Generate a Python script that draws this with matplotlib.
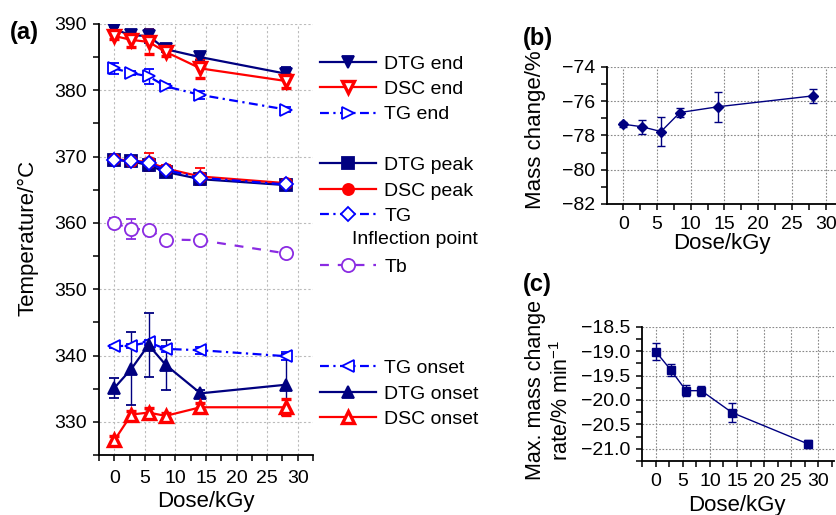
import matplotlib
matplotlib.use("Agg")
import matplotlib.pyplot as plt
from matplotlib.lines import Line2D
from matplotlib.ticker import MultipleLocator

plt.rcParams['font.family'] = ['Liberation Sans', 'DejaVu Sans']

# ---------------- data ----------------
dose = [0, 2.8, 5.6, 8.4, 14.1, 28.1]

dtg_end = [389.2, 388.3, 388.2, 386.2, 385.0, 382.5]
dtg_end_err = [0.3, 0.3, 1.1, 0.4, 0.5, 1.0]
dsc_end = [388.2, 387.6, 387.3, 385.8, 383.3, 381.4]
dsc_end_err = [0.5, 1.0, 1.8, 0.7, 1.5, 1.1]
tg_end = [383.3, 382.6, 382.1, 380.6, 379.3, 377.1]
tg_end_err = [0.8, 0.3, 1.1, 0.3, 0.6, 0.4]

dtg_peak = [369.5, 369.3, 368.7, 367.7, 366.6, 365.7]
dtg_peak_err = [0.3, 0.2, 0.8, 0.3, 0.4, 0.4]
dsc_peak = [369.6, 369.4, 369.2, 368.2, 367.0, 366.0]
dsc_peak_err = [0.4, 0.3, 1.4, 0.6, 1.3, 0.6]
tg_infl = [369.5, 369.4, 369.0, 368.0, 366.8, 365.8]
tg_infl_err = [0.2, 0.2, 0.5, 0.3, 0.3, 0.3]
tb = [360.0, 359.1, 359.0, 357.5, 357.4, 355.4]
tb_err = [0.7, 1.45, 0.4, 0.3, 0.6, 0.5]

tg_onset = [341.4, 341.5, 342.0, 341.0, 340.8, 339.9]
tg_onset_err = [0.2, 0.3, 0.4, 0.4, 0.5, 0.6]
dtg_onset = [335.1, 338.0, 341.6, 338.6, 334.3, 335.6]
dtg_onset_err = [1.5, 5.5, 4.8, 3.8, 0.5, 4.6]
dsc_onset = [327.2, 331.1, 331.4, 330.9, 332.2, 332.2]
dsc_onset_err = [0.6, 0.5, 0.7, 0.4, 0.7, 1.2]

mass_change = [-77.35, -77.5, -77.78, -76.67, -76.33, -75.7]
mass_change_err = [0.15, 0.4, 0.85, 0.25, 0.87, 0.4]

rate = [-19.01, -19.39, -19.81, -19.81, -20.26, -20.9]
rate_err = [0.17, 0.12, 0.11, 0.1, 0.19, 0.08]

# ---------------- styles ----------------
NAVY = '#000080'
RED = '#ff0000'
BLUE = '#0000ff'
PURPLE = '#8a2be2'

W, H = 837, 515
fig = plt.figure(figsize=(W / 100, H / 100), dpi=100)


def px_axes(l, t, r, b):
    return fig.add_axes([l / W, 1 - b / H, (r - l) / W, (b - t) / H])


TICK = 14
LAB = 16

# ---------------- panel (a) ----------------
axa = px_axes(99, 24, 313, 455)
ms = 8
series = [
    (dtg_end, dtg_end_err, dict(color=NAVY, ls='-', marker='v', mfc=NAVY, label='DTG end')),
    (dsc_end, dsc_end_err, dict(color=RED, ls='-', marker='v', mfc='white', mew=2.4, label='DSC end')),
    (tg_end, tg_end_err, dict(color=BLUE, ls='-.', marker='>', mfc='white', label='TG end')),
    (dtg_peak, dtg_peak_err, dict(color=NAVY, ls='-', marker='s', mfc=NAVY, label='DTG peak')),
    (dsc_peak, dsc_peak_err, dict(color=RED, ls='-', marker='o', mfc=RED, label='DSC peak')),
    (tg_infl, tg_infl_err, dict(color=BLUE, ls='-.', marker='D', mfc='white', ms=7, label='TG')),
    (tb, tb_err, dict(color=PURPLE, ls='--', marker='o', mfc='white', ms=9.5, label='Tb')),
    (tg_onset, tg_onset_err, dict(color=BLUE, ls='-.', marker='<', mfc='white', label='TG onset')),
    (dtg_onset, dtg_onset_err, dict(color=NAVY, ls='-', marker='^', mfc=NAVY, label='DTG onset')),
    (dsc_onset, dsc_onset_err, dict(color=RED, ls='-', marker='^', mfc='white', mew=2.4, label='DSC onset')),
]
handles = {}
for y, e, st in series:
    st = dict(st)
    lab = st.pop('label')
    st.setdefault('ms', ms)
    st.setdefault('mew', 1.3)
    eb = axa.errorbar(dose, y, yerr=e, lw=1.6, capsize=3.5, elinewidth=1.0,
                      capthick=1.0, mec=st['color'], **st)
    line = eb.lines[0]
    if st['ls'] == '-.':
        line.set_dashes([4, 2, 1, 2])
    elif st['ls'] == '--':
        line.set_dashes([4, 4])
    handles[lab] = line

axa.set_xlim(-2.5, 32.5)
axa.set_ylim(325, 390)
axa.xaxis.set_major_locator(MultipleLocator(5))
axa.xaxis.set_minor_locator(MultipleLocator(2.5))
axa.yaxis.set_major_locator(MultipleLocator(10))
axa.yaxis.set_minor_locator(MultipleLocator(5))
axa.grid(True, which='major', color='#bbbbbb', ls=(0, (2, 2)), lw=0.8)
axa.set_axisbelow(True)

# ---------------- panel (b) ----------------
axb = px_axes(607, 66.7, 845.3, 204)
axb.errorbar(dose, mass_change, yerr=mass_change_err, color=NAVY, lw=1.0, marker='D',
             ms=5, capsize=3, elinewidth=1.0, capthick=1.0)
axb.set_xlim(-2.4, 32.9)
axb.set_ylim(-82, -74)
axb.xaxis.set_major_locator(MultipleLocator(5))
axb.xaxis.set_minor_locator(MultipleLocator(2.5))
axb.yaxis.set_major_locator(MultipleLocator(2))
axb.yaxis.set_minor_locator(MultipleLocator(1))
axb.grid(True, which='major', color='#888888', ls=(0, (1.5, 1.5)), lw=0.8)
axb.set_axisbelow(True)

# ---------------- panel (c) ----------------
axc = px_axes(641.7, 326.7, 834, 461)
axc.errorbar(dose, rate, yerr=rate_err, color=NAVY, lw=1.0, marker='s',
             ms=5.5, capsize=3, elinewidth=1.0, capthick=1.0)
axc.set_xlim(-2.6, 32.9)
axc.set_ylim(-21.25, -18.5)
axc.xaxis.set_major_locator(MultipleLocator(5))
axc.xaxis.set_minor_locator(MultipleLocator(2.5))
axc.yaxis.set_major_locator(MultipleLocator(0.5))
axc.yaxis.set_minor_locator(MultipleLocator(0.25))
axc.yaxis.set_major_formatter(matplotlib.ticker.FuncFormatter(lambda v, p: f"{v:.1f}".replace('-', '\u2212')))
axc.grid(True, which='major', color='#888888', ls=(0, (1.5, 1.5)), lw=0.8)
axc.set_axisbelow(True)

for ax in (axa, axb, axc):
    for s in ('top', 'right'):
        ax.spines[s].set_visible(False)
    for s in ('left', 'bottom'):
        ax.spines[s].set_linewidth(1.3)
    ax.tick_params(which='both', direction='out', length=4.5, width=1.1,
                   labelsize=TICK, pad=4)
axa.tick_params(axis='x', pad=6)

# ---------------- labels ----------------
fig.text(28 / W, 1 - 238 / H, 'Temperature/°C', rotation=90, ha='center', va='center', fontsize=LAB)
fig.text(206 / W, 1 - 501 / H, 'Dose/kGy', ha='center', va='center', fontsize=LAB)
fig.text(536 / W, 1 - 130 / H, 'Mass change/%', rotation=90, ha='center', va='center', fontsize=LAB)
fig.text(722 / W, 1 - 244 / H, 'Dose/kGy', ha='center', va='center', fontsize=LAB)
fig.text(536 / W, 1 - 390 / H, 'Max. mass change', rotation=90, ha='center', va='center', fontsize=15.5)
fig.text(562 / W, 1 - 400 / H, 'rate/% min$^{\\mathregular{-1}}$', rotation=90, ha='center', va='center', fontsize=15.5)
fig.text(737 / W, 1 - 506 / H, 'Dose/kGy', ha='center', va='center', fontsize=LAB)

fig.text(10 / W, 1 - 33 / H, '(a)', ha='left', va='center', fontsize=17, fontweight='bold')
fig.text(523 / W, 1 - 38 / H, '(b)', ha='left', va='center', fontsize=17, fontweight='bold')
fig.text(523 / W, 1 - 284 / H, '(c)', ha='left', va='center', fontsize=17, fontweight='bold')

# ---------------- legend ----------------
blank = Line2D([], [], ls='none')
order = ['DTG end', 'DSC end', 'TG end', None, 'DTG peak', 'DSC peak', 'TG', None, 'Tb',
         None, None, None, 'TG onset', 'DTG onset', 'DSC onset']
hl = [handles[k] if k else blank for k in order]
ll = [k if k else ' ' for k in order]
fig.legend(hl, ll, loc='upper left', bbox_to_anchor=(320 / W, 1 - 55 / H),
           frameon=False, fontsize=14, handlelength=2.9, handletextpad=0.4,
           labelspacing=0.40, borderpad=0, borderaxespad=0)
fig.text(352 / W, 1 - 240 / H, 'Inflection point', ha='left', va='center', fontsize=14)

fig.savefig('out.png', dpi=100)
